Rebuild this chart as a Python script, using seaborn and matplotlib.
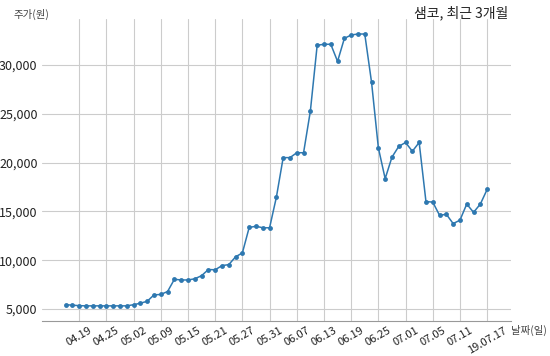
import matplotlib
matplotlib.use("Agg")
import matplotlib.pyplot as plt
import seaborn as sns
import pandas as pd

dates = [
    "04.17", "04.18", "04.19", "04.22", "04.23", "04.24", "04.25", "04.26", "04.29", "04.30",
    "05.02", "05.03", "05.07", "05.08", "05.09", "05.10", "05.13", "05.14", "05.15", "05.16",
    "05.17", "05.20", "05.21", "05.22", "05.23", "05.24", "05.27", "05.28", "05.29", "05.30",
    "05.31", "06.03", "06.04", "06.05", "06.07", "06.10", "06.11", "06.12", "06.13", "06.14",
    "06.17", "06.18", "06.19", "06.20", "06.21", "06.24", "06.25", "06.26", "06.27", "06.28",
    "07.01", "07.02", "07.03", "07.04", "07.05", "07.08", "07.09", "07.10", "07.11", "07.12",
    "07.15", "07.16", "19.07.17",
]
prices = [
    5450, 5400, 5350, 5330, 5330, 5330, 5330, 5330, 5330, 5330,
    5450, 5600, 5800, 6450, 6500, 6800, 8050, 7980, 7980, 8100,
    8420, 9050, 9020, 9450, 9550, 10350, 10750, 13350, 13480, 13320,
    13320, 16450, 20500, 20500, 21000, 21000, 25270, 32000, 32100, 32100,
    30350, 32700, 33050, 33150, 33150, 28200, 21500, 18350, 20550, 21650,
    22050, 21150, 22050, 16000, 15950, 14600, 14700, 13750, 14100, 15750,
    14900, 15750, 17250,
]
tick_labels = ["04.19", "04.25", "05.02", "05.09", "05.15", "05.21", "05.27", "05.31",
               "06.07", "06.13", "06.19", "06.25", "07.01", "07.05", "07.11", "19.07.17"]
y_ticks = [5000, 10000, 15000, 20000, 25000, 30000]

df = pd.DataFrame({"idx": range(len(dates)), "date": dates, "price": prices})

sns.set_style("whitegrid")
plt.rcParams["font.family"] = ["Noto Sans CJK KR", "DejaVu Sans"]

fig = plt.figure(figsize=(5.5, 3.56), dpi=100)
ax = fig.add_axes([0.076, 0.098, 0.853, 0.849])

sns.lineplot(data=df, x="idx", y="price", ax=ax, color="#2e78b0", linewidth=1.1,
             marker="o", markersize=3.5, markeredgewidth=0)

tick_pos = [dates.index(t) for t in tick_labels]
ax.set_xticks(tick_pos)
ax.set_xticklabels(tick_labels, rotation=30, ha="center", fontsize=8, color="#222222")
ax.set_yticks(y_ticks)
ax.set_yticklabels([f"{v:,}" for v in y_ticks], fontsize=9, color="#222222")
ax.set_xlim(-3.5, 65.5)
ax.set_ylim(3770, 34700)
ax.tick_params(axis="both", length=0, pad=3)
ax.grid(True, color="#cccccc", linewidth=0.8)
for s in ["left", "top", "right"]:
    ax.spines[s].set_visible(False)
ax.spines["bottom"].set_color("#999999")
ax.spines["bottom"].set_linewidth(0.8)
ax.set_xlabel("")
ax.set_ylabel("")

fig.text(0.024, 0.96, "주가(원)", fontsize=7.5, color="#444444", ha="left", va="center")
fig.text(0.925, 0.965, "샘코, 최근 3개월", fontsize=10, color="#222222", ha="right", va="center")
fig.text(0.93, 0.073, "날짜(일)", fontsize=7.5, color="#444444", ha="left", va="center")

fig.savefig("out.png", dpi=100)
